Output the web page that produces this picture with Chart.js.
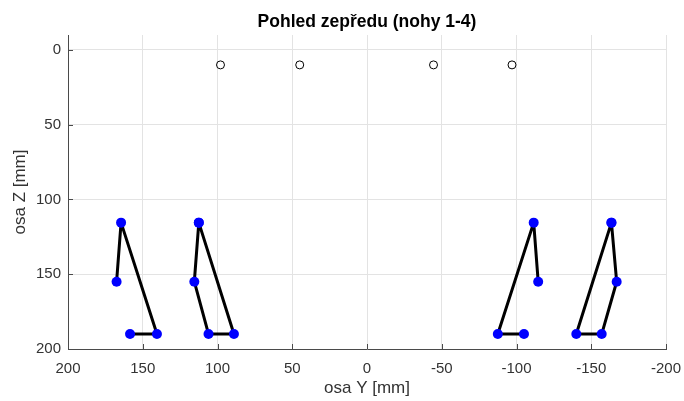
<!DOCTYPE html>
<html>
<head>
<meta charset="utf-8">
<script src="https://cdn.jsdelivr.net/npm/chart.js@4/dist/chart.umd.min.js"></script>
<style>
  html, body { margin: 0; padding: 0; background: #fff; }
  #wrap { width: 684px; height: 401px; }
</style>
</head>
<body>
<div id="wrap"><canvas id="chart"></canvas></div>
<script>
// souradnice nohou v pohledu zepredu (osa Y, osa Z) v mm
var leg1Y = [167.5, 164.5, 140.5, 158.5];
var leg1Z = [155, 115.5, 190, 190];
var leg2Y = [112.5, 115.5, 106, 89, 112.5];
var leg2Z = [115.5, 155, 190, 190, 115.5];
var leg3Y = [-114.5, -111.5, -87.5, -105];
var leg3Z = [155, 115.5, 190, 190];
var leg4Y = [-163.5, -167, -157, -140, -163.5];
var leg4Z = [115.5, 155, 190, 190, 115.5];

// body pripojeni k telu (prazdne kruhy)
var bodyY = [98, 45, -44.5, -97];
var bodyZ = [10, 10, 10, 10];

var xTicks = [200, 150, 100, 50, 0, -50, -100, -150, -200];
var yTicks = [0, 50, 100, 150, 200];

var titleText = 'Pohled zepředu (nohy 1-4)';

const toPoints = (xs, zs) => xs.map((x, i) => ({ x: x, y: zs[i] }));

const legDataset = (xs, zs) => ({
    data: toPoints(xs, zs),
    showLine: true,
    borderColor: '#000',
    borderWidth: 3,
    borderJoinStyle: 'round',
    pointRadius: 5,
    pointBackgroundColor: '#0000ff',
    pointBorderColor: '#0000ff',
    pointBorderWidth: 0
});

const family = 'Liberation Sans, Arial, sans-serif';
const tickFont = { family: family, size: 15 };
const labelFont = { family: family, size: 17 };

// titulek nad stredem grafu + kratke znacky dovnitr os (jako v matlabu)
const matlabLook = {
    id: 'matlabLook',
    afterDraw(chart) {
        const c = chart.ctx;
        const area = chart.chartArea;
        const xs = chart.scales.x, ys = chart.scales.y;
        c.save();
        c.strokeStyle = '#4a4a4a';
        c.lineWidth = 1;
        c.beginPath();
        xTicks.forEach(v => {
            const px = Math.round(xs.getPixelForValue(v)) + 0.5;
            c.moveTo(px, area.bottom);
            c.lineTo(px, area.bottom - 5);
        });
        yTicks.forEach(v => {
            const py = Math.round(ys.getPixelForValue(v)) + 0.5;
            c.moveTo(area.left, py);
            c.lineTo(area.left + 5, py);
        });
        c.stroke();
        c.fillStyle = '#000';
        c.font = 'bold 17.5px ' + family;
        c.textAlign = 'center';
        c.textBaseline = 'middle';
        c.fillText(titleText, (area.left + area.right) / 2, 22);
        c.restore();
    }
};

const ctx = document.getElementById('chart').getContext('2d');
const chart = new Chart(ctx, {
    type: 'scatter',
    data: {
        datasets: [
            legDataset(leg1Y, leg1Z),
            legDataset(leg2Y, leg2Z),
            legDataset(leg3Y, leg3Z),
            legDataset(leg4Y, leg4Z),
            {
                data: toPoints(bodyY, bodyZ),
                showLine: false,
                pointRadius: 4,
                pointBackgroundColor: 'rgba(0,0,0,0)',
                pointBorderColor: '#000',
                pointBorderWidth: 1
            }
        ]
    },
    options: {
        responsive: true,
        maintainAspectRatio: false,
        animation: false,
        layout: { padding: { left: 0, right: 18, top: 35, bottom: 0 } },
        plugins: {
            legend: { display: false },
            tooltip: { enabled: false },
            title: { display: false }
        },
        scales: {
            x: {
                type: 'linear',
                reverse: true,
                min: -200,
                max: 200,
                afterBuildTicks: (axis) => { axis.ticks = xTicks.map(v => ({ value: v })); },
                afterFit: (axis) => {
                    axis.height = 52;
                    axis.paddingLeft = 0;
                    axis.paddingRight = 0;
                },
                grid: { color: '#e3e3e3', drawTicks: false },
                border: { color: '#4a4a4a', width: 1 },
                ticks: { color: '#333', font: tickFont, padding: 11, maxRotation: 0 },
                title: { display: true, text: 'osa Y [mm]', color: '#333', font: labelFont, padding: { top: 0, bottom: 2 } }
            },
            y: {
                type: 'linear',
                reverse: true,
                min: -10,
                max: 200,
                afterBuildTicks: (axis) => { axis.ticks = yTicks.map(v => ({ value: v })); },
                afterFit: (axis) => {
                    axis.width = 68;
                    axis.paddingTop = 0;
                    axis.paddingBottom = 0;
                },
                grid: { color: '#e3e3e3', drawTicks: false },
                border: { color: '#4a4a4a', width: 1 },
                ticks: { color: '#333', font: tickFont, padding: 7 },
                title: { display: true, text: 'osa Z [mm]', color: '#333', font: labelFont, padding: { top: 10, bottom: 0 } }
            }
        }
    },
    plugins: [matlabLook]
});
</script>
</body>
</html>
